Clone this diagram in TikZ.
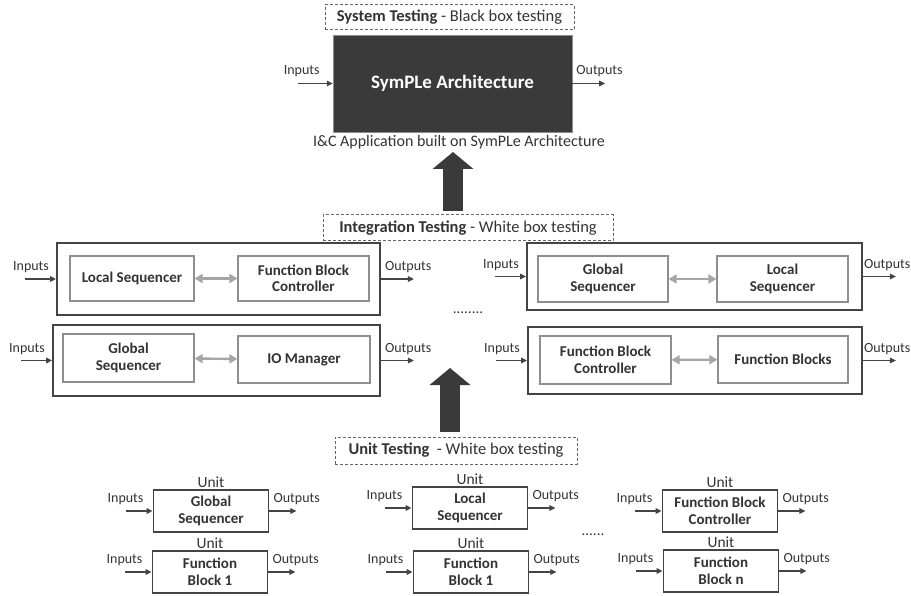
\documentclass[tikz,border=0pt]{standalone}
\usepackage{fontspec}
\setmainfont{Carlito}
\usetikzlibrary{arrows.meta,calc}
\definecolor{ink}{HTML}{333333}
\definecolor{frame}{HTML}{444444}
\definecolor{softframe}{HTML}{8E8E8E}
\definecolor{blockfill}{HTML}{3A3A3A}
\tikzset{
  lbl/.style={font=\fontsize{14}{16}\selectfont, text=ink, inner sep=1pt},
  unitlbl/.style={lbl, font=\fontsize{15.5}{17}\selectfont},
  testbox/.style={draw=black!60, dash pattern=on 3pt off 2pt, line width=1pt, inner sep=0pt,
    font=\fontsize{16.5}{18}\selectfont, text=ink},
  sysblock/.style={draw=black!45, fill=blockfill, text=white, inner sep=0pt,
    font=\bfseries\fontsize{19}{21}\selectfont},
  group/.style={draw=frame, line width=1.8pt, inner sep=0pt},
  part/.style={draw=softframe, line width=1.3pt, fill=white, align=center, text=ink,
    font=\bfseries\fontsize{15}{16.5}\selectfont, inner sep=0pt},
  unit/.style={part, draw=frame, line width=1.8pt, minimum width=115pt, minimum height=42pt},
  io/.style={-{Triangle[length=6pt,width=5.5pt]}, line width=1.7pt, draw=frame},
  link/.style={{Triangle[length=8pt,width=9pt]}-{Triangle[length=8pt,width=9pt]},
    line width=2.4pt, draw=black!35},
  uplift/.style={-{Triangle[length=17pt,width=40pt]}, line width=20pt, draw=blockfill}
}

\begin{document}
\begin{tikzpicture}[x=1pt, y=-1pt]
  \useasboundingbox (0,0) rectangle (911,596);

  % system level
  \node[testbox, minimum width=249pt, minimum height=25pt] (systest) at (449.5,17.5)
    {\textbf{System Testing} - Black box testing};
  \node[sysblock, minimum width=239pt, minimum height=97pt] (arch) at (452.5,83.5)
    {SymPLe Architecture};
  \node[lbl, font=\fontsize{16}{18}\selectfont] (caption) at (459,142)
    {I\&C Application built on SymPLe Architecture};
  \draw[io] ($(arch.west)+(-35,0)$) -- (arch.west);
  \node[lbl, anchor=south east] at ($(arch.west)+(-12,-6)$) {Inputs};
  \draw[io] (arch.east) -- ++(33,0);
  \node[lbl, anchor=south west] at ($(arch.east)+(3,-6)$) {Outputs};

  \coordinate (lift1) at (453,211);
  \draw[uplift] (lift1) -- ++(0,-59);

  % integration level
  \node[testbox, minimum width=290pt, minimum height=26pt] (inttest) at (468,228)
    {\textbf{Integration Testing} - White box testing};

  \node[group, minimum width=323pt, minimum height=72pt] (cl1) at (218.5,279) {};
  \node[group, minimum width=327pt, minimum height=71pt] (cl2) at (216.5,360.5) {};
  \node[group, minimum width=335pt, minimum height=67pt] (cr1) at (694.5,276.5) {};
  \node[group, minimum width=334pt, minimum height=67pt] (cr2) at (695,360.5) {};

  \node[part, minimum width=124pt, minimum height=45pt] (ls) at (132,278.5) {Local Sequencer};
  \node[part, minimum width=131pt, minimum height=45pt] (fbc) at (303.5,278.5) {Function Block\\Controller};
  \node[part, minimum width=131pt, minimum height=48pt] (gs) at (128.5,358) {Global\\Sequencer};
  \node[part, minimum width=132pt, minimum height=47pt] (iom) at (304,359.5) {IO Manager};
  \node[part, minimum width=130pt, minimum height=46pt] (gs2) at (603,279) {Global\\Sequencer};
  \node[part, minimum width=131pt, minimum height=46pt] (ls2) at (782.5,279) {Local\\Sequencer};
  \node[part, minimum width=131pt, minimum height=48pt] (fbc2) at (605.5,360) {Function Block\\Controller};
  \node[part, minimum width=130pt, minimum height=47pt] (fb) at (783,359.5) {Function Blocks};

  \draw[link] (ls) -- (fbc);
  \draw[link] (gs) -- (iom);
  \draw[link] (gs2) -- (ls2);
  \draw[link] (fbc2) -- (fb);

  \foreach \g/\gap in {cl1/4,cl2/4,cr1/1,cr2/1} {
    \draw[io] ($(\g.west)+(-31,0)$) -- (\g.west);
    \node[lbl, anchor=south east] at ($(\g.west)+(-6,-5)$) {Inputs};
    \draw[io] (\g.east) -- ++(33,0);
    \node[lbl, inner sep=0pt, anchor=south west] at ($(\g.east)+(\gap,-6)$) {Outputs};
  }
  \node[font=\fontsize{15}{15}\selectfont, text=ink] (intdots) at (468,313) {........};

  \coordinate (lift2) at (450,432);
  \draw[uplift] (lift2) -- ++(0,-64);

  % unit level
  \node[testbox, minimum width=242pt, minimum height=27pt] (unittest) at (456,450.5)
    {\textbf{Unit Testing}~ - White box testing};

  \foreach \nm/\cx/\cy/\txt in {u1/211/511/{Global\\Sequencer},
      u2/210/572/{Function\\Block 1},
      u3/470/508/{Local\\Sequencer},
      u4/471/572/{Function\\Block 1},
      u5/720/511/{Function Block\\Controller},
      u6/721/571/{Function\\Block n}} {
    \node[unit] (\nm) at (\cx,\cy) {\txt};
    \node[unitlbl, anchor=south] at (\nm.north) {Unit};
    \draw[io] ($(\nm.west)+(-27,0)$) -- (\nm.west);
    \node[lbl, anchor=south east] at ($(\nm.west)+(-8,-5)$) {Inputs};
    \draw[io] (\nm.east) -- ++(27,0);
    \node[lbl, anchor=south west] at ($(\nm.east)+(3,-5)$) {Outputs};
  }
  \node[font=\fontsize{15}{15}\selectfont, text=ink] (unitdots) at (593,535) {......};
\end{tikzpicture}
\end{document}
